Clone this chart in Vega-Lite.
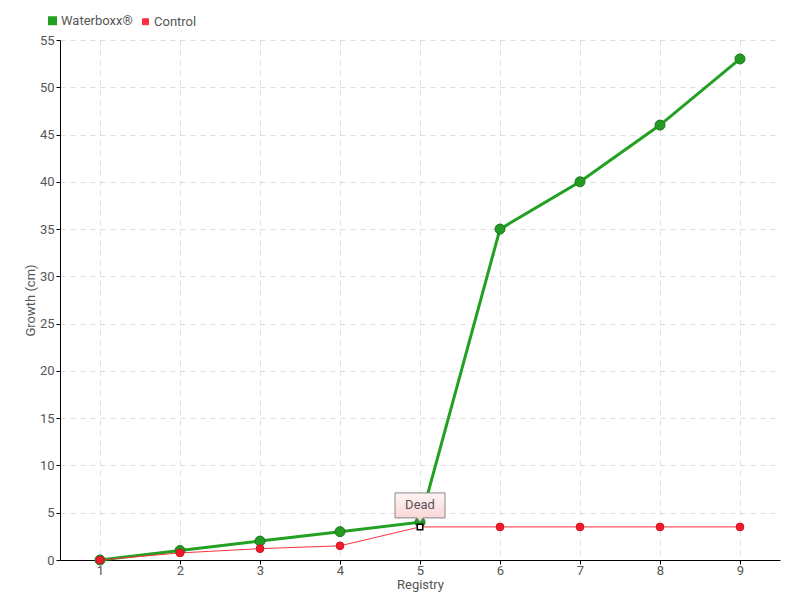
{
  "$schema": "https://vega.github.io/schema/vega-lite/v6.json",
  "width": 720,
  "height": 520,
  "autosize": {"type": "none"},
  "padding": {"left": 60, "top": 40, "right": 20, "bottom": 40},
  "background": "white",
  "config": {
    "font": "Roboto",
    "view": {"stroke": null},
    "axis": {
      "labelFont": "Roboto",
      "titleFont": "Roboto",
      "labelColor": "#555555",
      "titleColor": "#555555",
      "labelFontSize": 13,
      "titleFontSize": 13,
      "titleFontWeight": "normal",
      "domainColor": "#000000",
      "tickColor": "#000000",
      "tickSize": 4,
      "gridColor": "#dddddd",
      "gridDash": [5, 5],
      "gridWidth": 1
    },
    "legend": {
      "labelFont": "Roboto",
      "labelFontSize": 13,
      "labelColor": "#555555"
    }
  },
  "data": {
    "values": [
      {"registry": 1, "series": "Waterboxx®", "growth": 0},
      {"registry": 2, "series": "Waterboxx®", "growth": 1},
      {"registry": 3, "series": "Waterboxx®", "growth": 2},
      {"registry": 4, "series": "Waterboxx®", "growth": 3},
      {"registry": 5, "series": "Waterboxx®", "growth": 4},
      {"registry": 6, "series": "Waterboxx®", "growth": 35},
      {"registry": 7, "series": "Waterboxx®", "growth": 40},
      {"registry": 8, "series": "Waterboxx®", "growth": 46},
      {"registry": 9, "series": "Waterboxx®", "growth": 53},
      {"registry": 1, "series": "Control", "growth": 0},
      {"registry": 2, "series": "Control", "growth": 0.75},
      {"registry": 3, "series": "Control", "growth": 1.2},
      {"registry": 4, "series": "Control", "growth": 1.5},
      {"registry": 5, "series": "Control", "growth": 3.5, "note": "Dead"},
      {"registry": 6, "series": "Control", "growth": 3.5},
      {"registry": 7, "series": "Control", "growth": 3.5},
      {"registry": 8, "series": "Control", "growth": 3.5},
      {"registry": 9, "series": "Control", "growth": 3.5}
    ]
  },
  "encoding": {
    "x": {
      "field": "registry",
      "type": "quantitative",
      "scale": {"domain": [0.5, 9.5], "nice": false, "zero": false},
      "axis": {"values": [1, 2, 3, 4, 5, 6, 7, 8, 9], "title": "Registry", "titlePadding": 1, "labelPadding": 0, "grid": true}
    },
    "y": {
      "field": "growth",
      "type": "quantitative",
      "scale": {"domain": [0, 55], "nice": false},
      "axis": {"values": [0, 5, 10, 15, 20, 25, 30, 35, 40, 45, 50, 55], "title": "Growth (cm)", "titlePadding": 2, "labelPadding": 2, "grid": true}
    }
  },
  "layer": [
    {
      "mark": {"type": "line", "interpolate": "linear"},
      "encoding": {
        "color": {
          "field": "series",
          "type": "nominal",
          "sort": ["Waterboxx®", "Control"],
          "scale": {"domain": ["Waterboxx®", "Control"], "range": ["#22a022", "#ff3040"]},
          "legend": {
            "title": null,
            "orient": "none",
            "legendX": -14,
            "legendY": -26,
            "direction": "horizontal",
            "symbolType": "square",
            "symbolSize": 36,
            "symbolStrokeWidth": 0,
            "columnPadding": 6,
            "labelOffset": 2,
            "encode": {"symbols": {"update": {"fill": {"scale": "color", "field": "value"}, "strokeWidth": {"value": 0}}}}
          }
        },
        "strokeWidth": {
          "field": "series",
          "type": "nominal",
          "scale": {"domain": ["Waterboxx®", "Control"], "range": [3, 1]},
          "legend": null
        }
      }
    },
    {
      "transform": [{"filter": "datum.series == 'Waterboxx®'"}],
      "mark": {"type": "point", "shape": "circle", "filled": true, "fill": "#239a23", "stroke": "#1a7a1a", "strokeWidth": 1, "size": 100, "opacity": 1}
    },
    {
      "transform": [{"filter": "datum.series == 'Control' && datum.registry != 5"}],
      "mark": {"type": "point", "shape": "circle", "filled": true, "fill": "#ee1c2c", "stroke": "#d81020", "strokeWidth": 1, "size": 60, "opacity": 1}
    },
    {
      "transform": [{"filter": "datum.note == 'Dead'"}],
      "mark": {"type": "point", "shape": "square", "filled": true, "fill": "white", "stroke": "black", "strokeWidth": 1.5, "size": 30, "opacity": 1}
    },
    {
      "transform": [{"filter": "datum.note == 'Dead'"}],
      "mark": {
        "type": "point",
        "shape": "M-25,-34 H25 V-9 H3 L0,-5 L-3,-9 H-25 Z",
        "size": 4,
        "filled": true,
        "opacity": 1,
        "stroke": "#888888",
        "strokeWidth": 1,
        "fill": {"gradient": "linear", "x1": 0, "y1": 0, "x2": 0, "y2": 1, "stops": [{"offset": 0, "color": "#fff4f4"}, {"offset": 1, "color": "#f9d2d2"}]}
      }
    },
    {
      "transform": [{"filter": "datum.note == 'Dead'"}],
      "mark": {"type": "text", "dy": -21.5, "baseline": "middle", "align": "center", "fontSize": 13, "color": "#555555", "font": "Roboto"},
      "encoding": {"text": {"field": "note"}}
    }
  ]
}
